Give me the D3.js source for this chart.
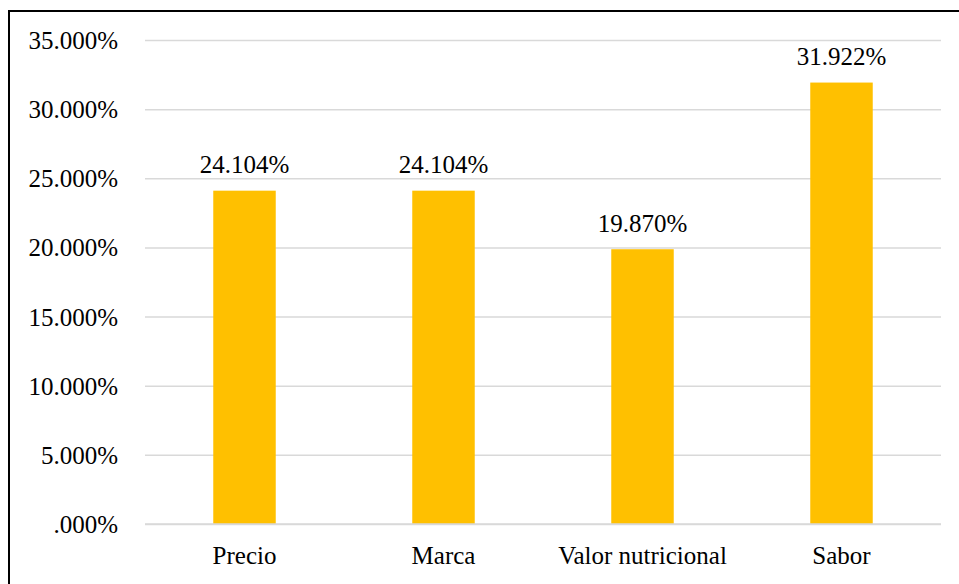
<!DOCTYPE html>
<html>
<head>
<meta charset="utf-8">
<script src="https://cdn.jsdelivr.net/npm/d3@7"></script>
<style>
  html, body { margin: 0; padding: 0; background: #fff; }
  svg { display: block; }
  text { font-family: "Liberation Serif", "Times New Roman", serif; fill: #000; }
</style>
</head>
<body>
<svg id="chart" width="959" height="584"></svg>
<script>
'use strict';

var categories = ['Precio', 'Marca', 'Valor nutricional', 'Sabor'];
var values = [24.104, 24.104, 19.870, 31.922];
var yTicks = [0, 5, 10, 15, 20, 25, 30, 35];

var svg = d3.select('#chart');
var width = 959, height = 584;

// Outer frame (runs off the right and bottom edge)
svg.append('rect')
    .attr('x', 9)
    .attr('y', 11)
    .attr('width', 1000)
    .attr('height', 1000)
    .style('fill', 'none')
    .style('stroke', '#000')
    .style('stroke-width', 2);

var PLOT_LEFT = 145, PLOT_RIGHT = 941;
var PLOT_TOP = 40, PLOT_BOTTOM = 524;

var x = d3.scaleBand()
    .domain(categories)
    .range([PLOT_LEFT, PLOT_RIGHT])
    .paddingInner(0.686)
    .paddingOuter(0.343);

var y = d3.scaleLinear()
    .domain([0, 35])
    .range([PLOT_BOTTOM, PLOT_TOP]);

var fmt = function(d) {
    var s = d3.format('.3f')(d);
    if (s.indexOf('0.') === 0) s = s.slice(1);
    return s + '%';
};

// Gridlines + y labels
var yAxis = d3.axisLeft(y)
    .tickValues(yTicks)
    .tickSize(-(PLOT_RIGHT - PLOT_LEFT))
    .tickPadding(27)
    .tickFormat(fmt);

var yAxisEl = svg.append('g')
    .attr('transform', 'translate(' + PLOT_LEFT + ',0)')
    .call(yAxis);
yAxisEl.select('.domain').remove();
yAxisEl.selectAll('line')
    .style('stroke', '#d9d9d9')
    .style('stroke-width', 1.5);
yAxisEl.selectAll('text')
    .style('font-size', '25px')
    .style('font-family', '"Liberation Serif", "Times New Roman", serif')
    .attr('dy', '0.34em');

// Bars
svg.append('g')
    .selectAll('rect')
    .data(values)
    .enter().append('rect')
    .attr('x', function(d, i) { return x(categories[i]); })
    .attr('y', function(d) { return y(d); })
    .attr('width', x.bandwidth())
    .attr('height', function(d) { return y(0) - y(d); })
    .style('fill', '#ffc000');

// Redraw zero line over bars
svg.append('line')
    .attr('x1', PLOT_LEFT)
    .attr('x2', PLOT_RIGHT)
    .attr('y1', y(0))
    .attr('y2', y(0))
    .style('stroke', '#d9d9d9')
    .style('stroke-width', 1.5);

// Value labels
svg.append('g')
    .selectAll('text')
    .data(values)
    .enter().append('text')
    .attr('x', function(d, i) { return x(categories[i]) + x.bandwidth() / 2; })
    .attr('y', function(d) { return y(d) - 17.5; })
    .attr('text-anchor', 'middle')
    .style('font-size', '25px')
    .text(fmt);

// x labels
var xAxis = d3.axisBottom(x).tickSize(0).tickPadding(0);
var xAxisEl = svg.append('g')
    .attr('transform', 'translate(0,' + PLOT_BOTTOM + ')')
    .call(xAxis);
xAxisEl.select('.domain').remove();
xAxisEl.selectAll('text')
    .attr('y', 40)
    .attr('dy', 0)
    .style('font-size', '25px')
    .style('font-family', '"Liberation Serif", "Times New Roman", serif');
</script>
</body>
</html>
